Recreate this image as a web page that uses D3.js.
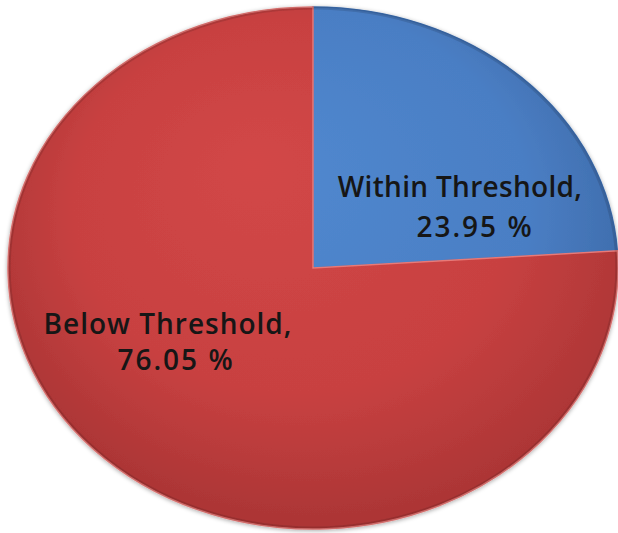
<!DOCTYPE html>
<html><head><meta charset="utf-8">
<script src="https://cdn.jsdelivr.net/npm/d3@7"></script>
<style>html,body{margin:0;padding:0;background:#fff;}svg{display:block;}</style>
</head><body>
<svg id="chart" width="618" height="533"></svg>
<script>
const categories = ["Within Threshold", "Below Threshold"];
const values = [23.95, 76.05];
const valueLabels = ["23.95 %", "76.05 %"];

const W = 618, H = 533;
const cx = 313, cy = 268, rx = 305, ry = 261;
const svg = d3.select("#chart");
const defs = svg.append("defs");

const gradSpecs = [
  {id: "gBlue", stops: [["0%", "#5189d0"], ["70%", "#4a7ec4"], ["100%", "#3d6aa8"]]},
  {id: "gRed", stops: [["0%", "#d24747"], ["65%", "#c84141"], ["100%", "#ad3636"]]}
];
gradSpecs.forEach(g => {
  const rg = defs.append("radialGradient").attr("id", g.id)
    .attr("gradientUnits", "userSpaceOnUse")
    .attr("cx", 0).attr("cy", -ry * 0.15).attr("r", ry * 1.1)
    .attr("fx", -ry * 0.2).attr("fy", -ry * 0.4);
  g.stops.forEach(s => rg.append("stop").attr("offset", s[0]).attr("stop-color", s[1]));
});
const fills = ["url(#gBlue)", "url(#gRed)"];

const filt = defs.append("filter").attr("id", "shadow").attr("x", "-10%").attr("y", "-10%").attr("width", "120%").attr("height", "120%");
filt.append("feGaussianBlur").attr("in", "SourceAlpha").attr("stdDeviation", 2);
filt.append("feOffset").attr("dx", 0).attr("dy", 1).attr("result", "b");
filt.append("feFlood").attr("flood-color", "#000").attr("flood-opacity", 0.35);
filt.append("feComposite").attr("in2", "b").attr("operator", "in");
const fm = filt.append("feMerge");
fm.append("feMergeNode");
fm.append("feMergeNode").attr("in", "SourceGraphic");

const pie = d3.pie().sort(null).value(d => d)(values);
const arc = d3.arc().innerRadius(0).outerRadius(ry);

const g = svg.append("g")
  .attr("transform", `translate(${cx},${cy}) scale(${rx / ry},1)`)
  .attr("filter", "url(#shadow)");

g.selectAll("path.slice").data(pie).join("path")
  .attr("class", "slice")
  .attr("d", arc)
  .attr("fill", (d, i) => fills[i])
  .attr("stroke", (d, i) => i === 0 ? "#3d6eb0" : "#e87a78")
  .attr("stroke-width", 1.5)
  .attr("vector-effect", "non-scaling-stroke");

g.append("ellipse").attr("cx", 0).attr("cy", 0).attr("rx", ry - 1).attr("ry", ry - 1)
  .attr("fill", "none").attr("stroke", "#000").attr("stroke-opacity", 0.12)
  .attr("stroke-width", 3).attr("vector-effect", "non-scaling-stroke");

const labelPos = [
  {x1: 460, x2: 475, y1: 197, y2: 237, ls: 0.3},
  {x1: 168, x2: 176, y1: 334, y2: 370, ls: 1}
];
const tg = svg.append("g")
  .attr("font-family", "'Open Sans', Lato, sans-serif")
  .attr("font-weight", 600)
  .attr("font-size", 28)
  .attr("fill", "#161616")
  .attr("text-anchor", "middle");
categories.forEach((c, i) => {
  tg.append("text").attr("x", labelPos[i].x1).attr("y", labelPos[i].y1)
    .attr("letter-spacing", labelPos[i].ls).text(c + ",");
  tg.append("text").attr("x", labelPos[i].x2).attr("y", labelPos[i].y2)
    .attr("letter-spacing", 2).text(valueLabels[i]);
});
</script>
</body></html>
